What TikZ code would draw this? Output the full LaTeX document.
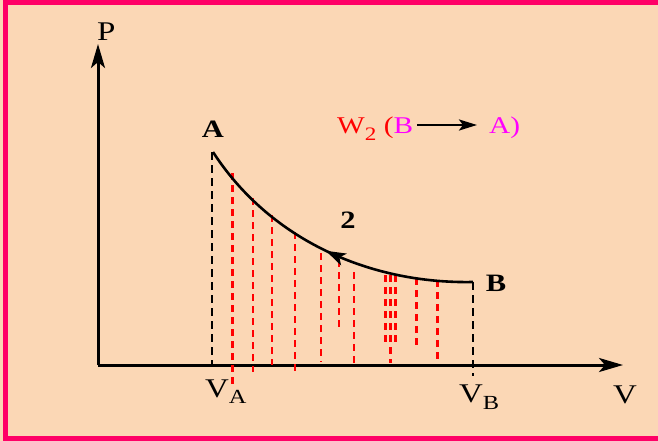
\documentclass[tikz,border=0pt]{standalone}
\usepackage{fontspec}
\setmainfont[FakeStretch=1.22]{Liberation Serif}
\usetikzlibrary{arrows.meta,decorations.markings}
\definecolor{peach}{RGB}{251,215,181}
\definecolor{framepink}{RGB}{255,0,102}
\definecolor{mag}{RGB}{255,0,255}
\definecolor{redd}{RGB}{255,0,0}
\tikzset{
  axis/.style={line width=3pt,-{Stealth[length=24pt,width=14pt,inset=6pt]}},
  curveline/.style={line width=2.6pt},
  blackdash/.style={line width=2.4pt,dash pattern=on 8pt off 5pt},
  reddash/.style={line width=2.5pt,redd,dash pattern=on 7pt off 5pt},
  lbl/.style={inner sep=0pt,anchor=base west,font=\fontsize{27}{27}\selectfont},
  ptlbl/.style={inner sep=0pt,anchor=base,font=\fontsize{25}{25}\selectfont\bfseries},
}
\newcommand{\subtxt}[2]{\raisebox{-#1pt}{\fontsize{20}{20}\selectfont #2}}
\begin{document}
\begin{tikzpicture}[x=1pt,y=-1pt]
\useasboundingbox (0,0) rectangle (658,441);
\fill[peach] (0,0) rectangle (658,441);
\draw[framepink,line width=5pt] (664,2.5) -- (5,2.5) -- (5,438.5) -- (664,438.5);
% axes
\coordinate (O) at (98,365);
\coordinate (Ytip) at (98,44);
\coordinate (Xtip) at (623,365);
\draw[axis] (O) -- (Ytip);
\draw[axis] (O) -- (Xtip);
% points
\coordinate (PA) at (213,152);
\coordinate (PB) at (473,282);
\coordinate (VAx) at (212,365);
\coordinate (VBx) at (473,376);
% vertical black dashed
\draw[blackdash] (212,152) -- (VAx);
\draw[blackdash] (PB) -- (VBx);
% red dashed
\foreach \x/\t/\b in {232.5/173/385, 253/198/372, 272/215/365, 295/232/372, 321/253/362,
  339/260/330, 354/272/365, 385.5/275/345, 390.5/275/363, 395.5/275/345, 416.5/278/348, 437.5/280/363}
  \draw[reddash] (\x,\t) -- (\x,\b);
% curve with arrow
\draw[curveline,postaction={decorate},
  decoration={markings,mark=at position 0.5 with {\arrow{Stealth[length=20pt,width=13pt,inset=5pt]}}}]
  (PB) .. controls (370,284) and (270,240) .. (PA);
% labels
\node[lbl] (P) at (97,41) {P};
\node[lbl] (V) at (613,403) {V};
\node[lbl] (VA) at (205,397) {V\subtxt{6}{A}};
\node[lbl] (VB) at (459,402) {V\subtxt{7}{B}};
\node[ptlbl] (A) at (213,138) {A};
\node[ptlbl] (B) at (496,291) {B};
\node[ptlbl] (two) at (348,228) {2};
% W2 label
\node[inner sep=0pt,anchor=base west,font=\fontsize{24}{24}\selectfont] (w) at (337,133)
  {\color{redd}W\raisebox{-7pt}{\fontsize{19}{19}\selectfont 2} (\color{mag}B};
\node[inner sep=0pt,anchor=base west,font=\fontsize{24}{24}\selectfont,text=mag] (wa) at (489,133) {A)};
\draw[line width=2.6pt,-{Stealth[length=18pt,width=11pt,inset=4pt]}]
  ([xshift=4pt,yshift=8pt]w.base east) -- ([xshift=-12pt,yshift=8pt]wa.base west);
\end{tikzpicture}
\end{document}
